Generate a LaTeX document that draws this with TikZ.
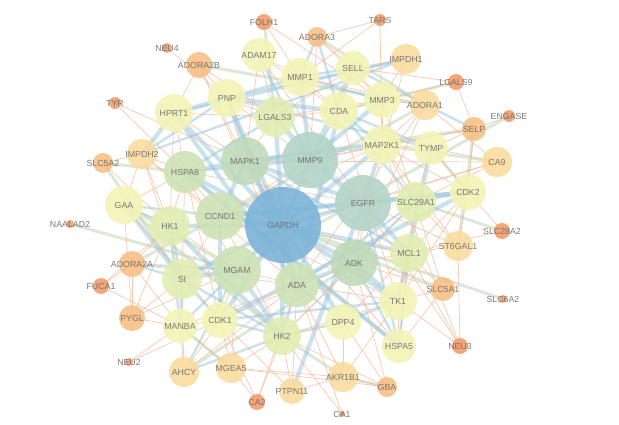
\documentclass[tikz,border=0pt]{standalone}
\usepackage{fontspec}
\setmainfont{Liberation Sans}
\usetikzlibrary{backgrounds}
\definecolor{cGap}{RGB}{125,180,215}
\definecolor{cHub}{RGB}{180,212,200}
\definecolor{cGrn}{RGB}{192,218,186}
\definecolor{cLgr}{RGB}{206,226,182}
\definecolor{cYgr}{RGB}{226,237,178}
\definecolor{cYel}{RGB}{243,244,182}
\definecolor{cLor}{RGB}{250,220,158}
\definecolor{cOrg}{RGB}{247,192,134}
\definecolor{cDor}{RGB}{241,158,108}
\definecolor{cTxt}{RGB}{110,110,110}
\definecolor{eBlue}{RGB}{150,195,222}
\definecolor{eGrn}{RGB}{196,218,188}
\definecolor{eOrg}{RGB}{246,182,148}
\newcommand{\nlab}[1]{\makebox[0pt]{\raisebox{-3.1pt}[0pt][0pt]{#1}}}
\tikzset{
  gnode/.style={circle,inner sep=0pt,draw=none,fill opacity=0.9,text=cTxt,
    font=\fontsize{8.8}{10}\selectfont},
  eblue/.style={draw=eBlue,line width=4.2pt,opacity=0.5},
  ebluem/.style={draw=eBlue,line width=2.4pt,opacity=0.5},
  egreen/.style={draw=eGrn,line width=3pt,opacity=0.6},
  eorange/.style={draw=eOrg,line width=0.7pt,opacity=0.75}
}
\begin{document}
\begin{tikzpicture}[x=1pt,y=-1pt]
\useasboundingbox (0,0) rectangle (619,424);
\foreach \n/\x/\y/\r/\c in {
 GAPDH/283/225/38/cGap, MMP9/310/160/28/cHub, EGFR/363/203/28/cHub,
 MAPK1/245/161/24/cGrn, ADK/354/263/23/cGrn,
 CCND1/220/216/24/cLgr, MGAM/237/270/24/cLgr, ADA/297/285/22/cLgr, HSPA8/185/172/21/cLgr,
 HK1/170/226/20/cYgr, SI/182/279/20/cYgr, HK2/282/336/19/cYgr, SLC29A1/416/202/20/cYgr,
 MCL1/409/253/19/cYgr, LGALS3/275/117/20/cYgr,
 MMP1/300/77/19/cYel, PNP/227/98/19/cYel, HPRT1/174/113/19/cYel, CDA/339/111/19/cYel,
 MMP3/382/100/18/cYel, MAP2K1/382/145/19/cYel, TYMP/431/148/17/cYel, CDK2/468/192/18/cYel,
 TK1/398/301/19/cYel, DPP4/343/322/18/cYel, HSPA5/399/346/17/cYel, CDK1/220/320/18/cYel,
 MANBA/180/326/17/cYel, GAA/124/205/19/cYel, SELL/353/68/17/cYel, ADAM17/259/55/17/cYel,
 IMPDH1/406/59/15/cLor, ADORA1/425/105/15/cLor, CA9/497/162/15/cLor, ST6GAL1/458/246/15/cLor,
 AKR1B1/343/377/15/cLor, AHCY/184/372/15/cLor, MGEA5/231/368/15/cLor, IMPDH2/142/154/15/cLor,
 PTPN11/292/391/13/cLor,
 ADORA2B/199/65/13/cOrg, ADORA2A/132/264/13/cOrg, PYGL/132/318/13/cOrg, SELP/474/129/12/cOrg,
 SLC5A1/443/289/12/cOrg, GBA/387/387/10/cOrg, SLC5A2/103/163/10/cOrg, ADORA3/317/37/10/cOrg,
 FOLH1/264/22/8/cDor, TARS/380/20/6/cDor, NEU4/167/48/5/cDor, TYR/115/103/6/cDor,
 LGALS9/456/82/8/cDor, ENGASE/509/116/6/cDor, SLC28A2/502/231/8/cDor, SLC6A2/503/299/4/cDor,
 NEU3/460/346/8/cDor, CA1/342/414/3/cDor, CA2/257/402/8/cDor, NEU2/129/362/4/cDor,
 FUCA1/101/286/8/cDor, NAALAD2/70/224/4/cDor}
 {\node[gnode,fill=\c,minimum size=2*\r pt] (\n) at (\x,\y) {\nlab{\n}};}
\begin{scope}[on background layer]
% pale green edges
\foreach \a/\b in {SLC5A2/SI, SLC5A2/HSPA8, NAALAD2/MGAM, ENGASE/MGAM, SLC6A2/GAPDH,
 SLC28A2/SLC29A1, ADORA2B/ADORA1, FOLH1/LGALS3, ADORA3/ADORA1, GBA/AKR1B1, AKR1B1/HK2,
 LGALS9/CDA, SLC5A1/GAPDH, AHCY/ADK, CA9/MAP2K1, ST6GAL1/SELP, GAA/MGAM, MANBA/MGEA5,
 TYMP/CDK2, SELP/MAPK1, HSPA5/HSPA8, GAA/HK2, ADORA2A/ADORA1}
 {\draw[egreen] (\a.center) -- (\b.center);}
% thick blue edges
\foreach \a/\b in {GAPDH/MMP9, GAPDH/EGFR, GAPDH/MAPK1, GAPDH/CCND1, GAPDH/ADK, GAPDH/ADA,
 GAPDH/MGAM, GAPDH/HK1, GAPDH/HK2, GAPDH/HSPA8, GAPDH/LGALS3, GAPDH/CDK1, GAPDH/TK1,
 GAPDH/MAP2K1, GAPDH/PNP, GAPDH/HPRT1, GAPDH/MCL1, GAPDH/DPP4, GAPDH/SI,
 MMP9/EGFR, MMP9/MAPK1, MMP9/MMP1, MMP9/MMP3, MMP9/LGALS3, MMP9/SELL,
 EGFR/MAPK1, EGFR/MAP2K1, EGFR/PTPN11, EGFR/CCND1, EGFR/CDK2, EGFR/MCL1,
 MAPK1/MAP2K1, MAPK1/CCND1, MAPK1/HSPA8, CCND1/CDK1, CCND1/CDK2, HK1/HK2,
 ADA/ADK, ADA/PNP, ADA/CDA, ADA/HPRT1, PNP/HPRT1, HPRT1/IMPDH2, ADK/TK1,
 MGAM/SI, MGAM/HK2, SI/GAA, HSPA8/HSPA5, CDK1/CDK2, TK1/TYMP, PNP/CDA}
 {\draw[eblue] (\a.center) -- (\b.center);}
\foreach \a/\b in {MMP9/ADAM17, MMP9/HSPA8, MMP9/CDA, MMP1/MMP3, MMP1/PNP, SELL/SELP,
 SELL/MMP1, ADORA3/CDA, ADORA3/MMP1, HPRT1/IMPDH1, PNP/IMPDH1, LGALS3/HSPA8, TYMP/CDA,
 TYMP/PNP, SLC29A1/ADK, SLC29A1/CDA, SLC29A1/ADA, MCL1/MAPK1, MCL1/HSPA5, HSPA5/EGFR,
 HK1/SI, HK1/MANBA, HK1/GAA, SI/MANBA, SI/CDK1, CDK1/HK2, HK2/DPP4, HK2/ADA, HK2/SI,
 AHCY/MGAM, AHCY/HK2, DPP4/ADA, TK1/DPP4, TK1/CDK1, IMPDH2/PNP, IMPDH2/IMPDH1,
 ADORA2A/SI, ADORA2A/MGAM, GAA/CCND1, MANBA/MGAM, HSPA5/ADK, MAP2K1/CDA, CDK2/SLC29A1}
 {\draw[ebluem] (\a.center) -- (\b.center);}
% thin orange edges
\foreach \a/\b in {FOLH1/MMP1, FOLH1/MMP3, NEU4/PNP, TYR/HSPA8, TYR/MAPK1,
 TARS/MMP1, TARS/MAP2K1, TARS/ADORA3, ADORA3/SELL, ADORA3/MMP3, ADORA3/MMP9,
 ADORA2B/HPRT1, ADORA2B/PNP, ADORA2B/ADA, ADORA2B/MAPK1, ADORA2B/LGALS3,
 ADAM17/LGALS3, ADAM17/MMP1, ADAM17/CDA, ADAM17/EGFR, ADAM17/MAPK1,
 IMPDH1/SELL, IMPDH1/MMP3, IMPDH1/ADK, LGALS9/SELL, LGALS9/SELP, LGALS9/MMP3,
 ADORA1/MAP2K1, ADORA1/MMP3, ADORA1/CA9, ADORA1/ADA, ADORA1/ADK, ADORA1/MMP1,
 ENGASE/SELP, SELP/TYMP, SELP/MAP2K1, SELP/CDK2, SELP/MMP9,
 CA9/TYMP, CA9/SLC29A1, CA9/EGFR, CA9/MAPK1, CA9/GAPDH,
 CDK2/TYMP, CDK2/MCL1, CDK2/SLC28A2, CDK2/ST6GAL1, CDK2/MAP2K1, CDK2/TK1,
 SLC28A2/MCL1, ST6GAL1/NEU3, ST6GAL1/MCL1, ST6GAL1/SLC29A1, ST6GAL1/MAP2K1, ST6GAL1/EGFR,
 SLC5A1/TK1, SLC5A1/MCL1, SLC5A1/ADK, SLC5A1/HSPA5, SLC5A1/MMP3,
 NEU3/MCL1, NEU3/TK1, NEU3/EGFR, NEU3/MAP2K1,
 HSPA5/TK1, HSPA5/MCL1, HSPA5/MAPK1, DPP4/AKR1B1, DPP4/GBA, DPP4/ADK, DPP4/MCL1,
 AKR1B1/GBA, AKR1B1/MGEA5, AKR1B1/ADA, AKR1B1/TK1, GBA/HK2, GBA/ADK,
 CA1/HK2, CA1/ADA, CA2/HK2, CA2/CDK1, CA2/MGEA5, CA2/ADA,
 PTPN11/HK2, PTPN11/CDK1, PTPN11/ADA, PTPN11/AKR1B1,
 MGEA5/HK2, MGEA5/CDK1, MGEA5/MANBA, MGEA5/MGAM, MGEA5/GBA,
 AHCY/MANBA, AHCY/CDK1, AHCY/ADA, AHCY/SI, NEU2/CDK1, NEU2/MANBA,
 MANBA/PYGL, MANBA/CDK1, MANBA/FUCA1, MANBA/ADA,
 PYGL/SI, PYGL/ADORA2A, PYGL/HK1, PYGL/GAA, PYGL/MGAM,
 FUCA1/HK1, FUCA1/ADORA2A, ADORA2A/HK1, ADORA2A/ADA, ADORA2A/MANBA,
 GAA/HK1, GAA/IMPDH2, GAA/CDK1, GAA/HSPA8, SLC5A2/HK1, SLC5A2/IMPDH2,
 IMPDH2/HSPA8, IMPDH2/HK1, IMPDH2/SI, IMPDH2/CCND1, IMPDH2/ADA,
 HSPA8/HK1, HSPA8/CCND1, HSPA8/SI, HSPA8/CDK1, HSPA8/EGFR, HSPA8/MGAM,
 HPRT1/HSPA8, HPRT1/HK1, HPRT1/MAPK1, HPRT1/LGALS3,
 MAP2K1/MMP3, MAP2K1/TYMP, MAP2K1/SLC29A1, MAP2K1/CCND1,
 MMP3/SELL, MMP3/CDA, MMP3/LGALS3, CDA/LGALS3, CDA/MMP1, CDA/SELL, CDA/TK1,
 LGALS3/PNP, LGALS3/MAPK1, LGALS3/SELL, LGALS3/EGFR, PNP/MAPK1, PNP/MMP9,
 CCND1/MCL1, CCND1/HK2, CCND1/SI, CCND1/TK1, MGAM/CDK1, MGAM/ADA, MGAM/HK1,
 ADK/EGFR, ADK/HK2, ADK/CDK1, ADK/MCL1, TK1/HK2, TK1/MCL1, TK1/ADA,
 SLC29A1/MCL1, SLC29A1/TYMP, SLC29A1/TK1, SLC29A1/HK2, MMP9/CCND1, MMP9/MAP2K1}
 {\draw[eorange] (\a.center) -- (\b.center);}
\end{scope}
\end{tikzpicture}
\end{document}
